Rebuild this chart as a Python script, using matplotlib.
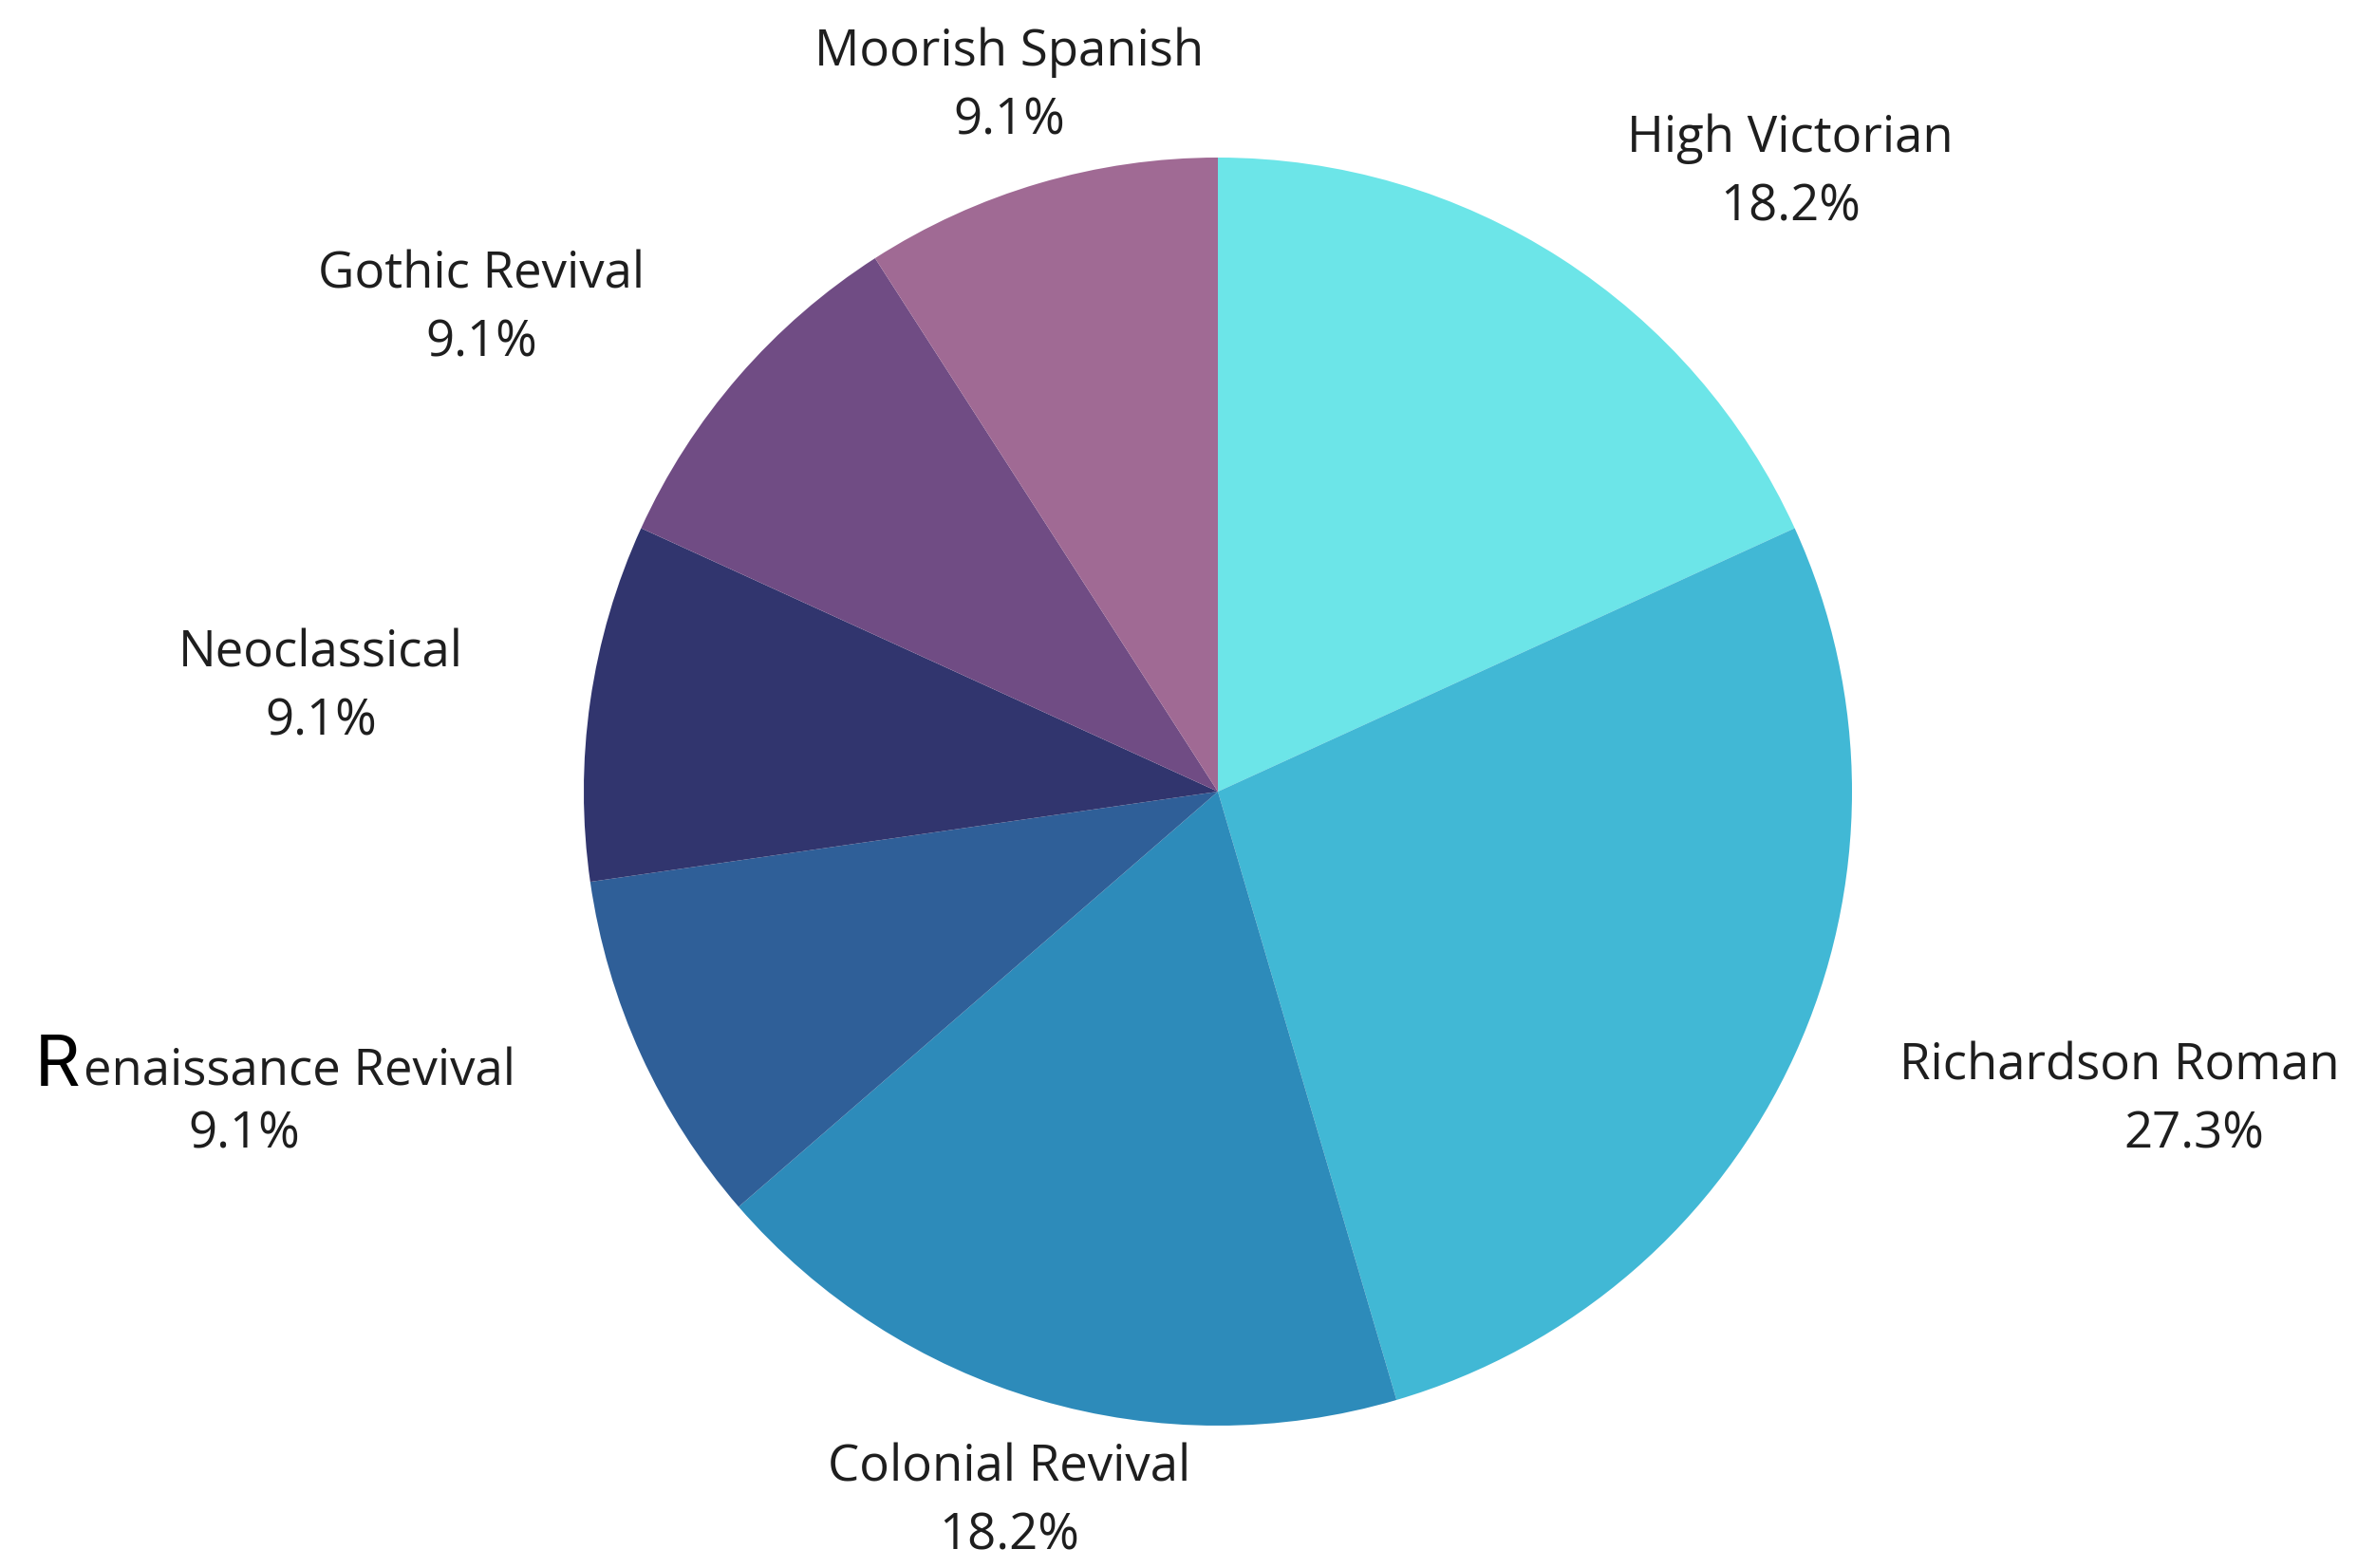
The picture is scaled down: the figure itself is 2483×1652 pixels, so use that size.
import matplotlib
matplotlib.use("Agg")
import matplotlib.pyplot as plt

# architectural styles, counts of buildings (shares read as x/11)
styles = ["High Victorian", "Richardson Roman", "Colonial Revival",
          "Renaissance Revival", "Neoclassical", "Gothic Revival", "Moorish Spanish"]
counts = [2, 3, 2, 1, 1, 1, 1]
colors = ["#6ce5e8", "#41b8d5", "#2d8bba", "#2f5f98", "#31356e", "#704c84", "#a06a94"]

# label placement in pie-radius units: (name x, pct x, y of block centre)
label_pos = [(0.903, 0.903, 0.975), (1.422, 1.540, -0.488), (-0.329, -0.329, -1.121),
             (-1.457, -1.536, -0.488), (-1.415, -1.415, 0.164), (-1.161, -1.161, 0.761),
             (-0.329, -0.329, 1.112)]

W, H = 2483, 1652
cx, cy, r = 1283, 834, 668
txt = dict(fontsize=38, family="Open Sans", color="#1e1e1e")

fig = plt.figure(figsize=(W / 100, H / 100), dpi=100)
ax = fig.add_axes([0, 0, 1, 1])

ax.pie(counts, colors=colors, startangle=90, counterclock=False,
       wedgeprops=dict(linewidth=0))
ax.set_aspect("auto")
ax.set_xlim(-cx / r, (W - cx) / r)
ax.set_ylim(-(H - cy) / r, cy / r)
ax.axis("off")

total = sum(counts)
gap = 0.054
for name, n, (nx, px, y) in zip(styles, counts, label_pos):
    pct = f"{100 * n / total:.1f}%"
    if name.startswith("Renaissance"):
        # the original has an oversized first letter in another face
        ax.text(-1.789, y + gap - 0.03, name[1:], ha="left", va="baseline", **txt)
        ax.text(-1.795, y + gap - 0.03, name[0], ha="right", va="baseline",
                fontsize=55, family="Roboto", color="black")
    else:
        ax.text(nx, y + gap, name, ha="center", va="center", **txt)
    ax.text(px, y - gap, pct, ha="center", va="center", **txt)

fig.savefig("out.png", dpi=100, facecolor="white")
